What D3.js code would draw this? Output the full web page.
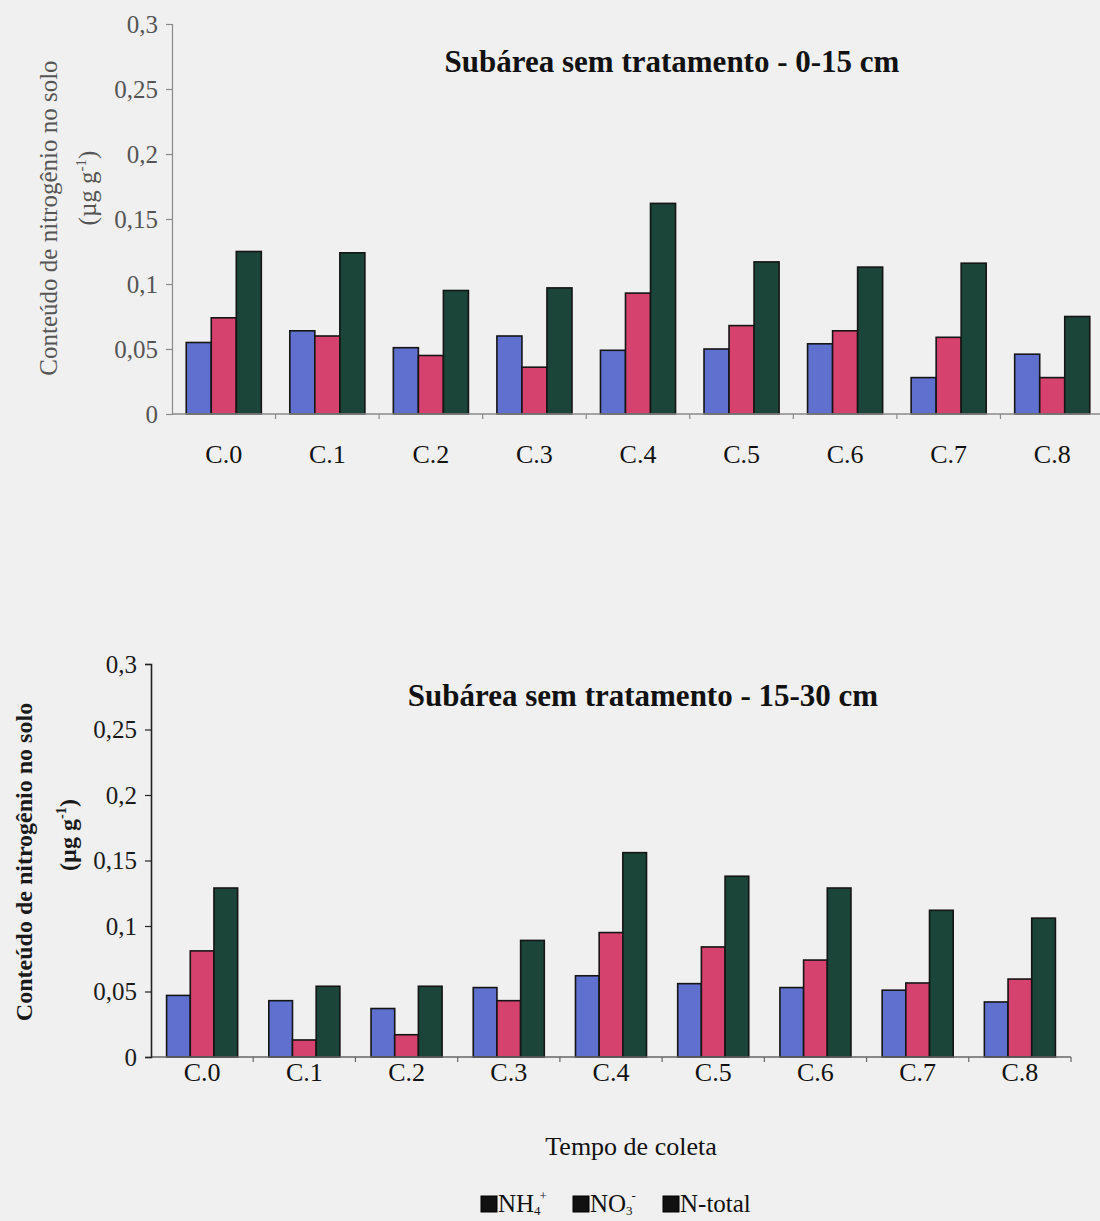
<!DOCTYPE html>
<html>
<head>
<meta charset="utf-8">
<script src="https://cdn.jsdelivr.net/npm/d3@7"></script>
<style>
  html, body { margin: 0; padding: 0; background: #f0f0f0; }
  svg { display: block; font-family: "Liberation Serif", "Times New Roman", serif; }
</style>
</head>
<body>
<svg id="chart" width="1100" height="1221"></svg>
<script>
// Collection times
const categories = ["C.0", "C.1", "C.2", "C.3", "C.4", "C.5", "C.6", "C.7", "C.8"];
const seriesNames = ["NH4", "NO3", "Ntotal"];

// Soil nitrogen content, 0-15 cm (µg g-1)
const topNH4    = [0.055, 0.064, 0.051, 0.060, 0.049, 0.050, 0.054, 0.028, 0.046];
const topNO3    = [0.074, 0.060, 0.045, 0.036, 0.093, 0.068, 0.064, 0.059, 0.028];
const topNtotal = [0.125, 0.124, 0.095, 0.097, 0.162, 0.117, 0.113, 0.116, 0.075];

// Soil nitrogen content, 15-30 cm (µg g-1)
const botNH4    = [0.047, 0.043, 0.037, 0.053, 0.062, 0.056, 0.053, 0.051, 0.042];
const botNO3    = [0.081, 0.013, 0.017, 0.043, 0.095, 0.084, 0.074, 0.0565, 0.0595];
const botNtotal = [0.129, 0.054, 0.054, 0.089, 0.156, 0.138, 0.129, 0.112, 0.106];

const yTicks = [0, 0.05, 0.1, 0.15, 0.2, 0.25, 0.3];
const yTickLabels = ["0", "0,05", "0,1", "0,15", "0,2", "0,25", "0,3"];

const colors = { NH4: "#5f70cf", NO3: "#d6426e", Ntotal: "#1b4538" };

const svg = d3.select("#chart");

function drawPanel(cfg) {
  const g = svg.append("g");
  const x0 = d3.scaleBand().domain(categories).range([cfg.left, cfg.right]).padding(0);
  const groupW = x0.step() * cfg.groupFrac;
  const x1 = d3.scaleBand().domain(seriesNames).range([-groupW / 2, groupW / 2]).padding(0);
  const y = d3.scaleLinear().domain([0, 0.3]).range([cfg.bottom, cfg.top]);

  const rows = categories.map((c, i) => ({
    cat: c,
    vals: [
      { key: "NH4", v: cfg.nh4[i] },
      { key: "NO3", v: cfg.no3[i] },
      { key: "Ntotal", v: cfg.ntot[i] }
    ]
  }));

  // Bars
  const grp = g.selectAll("g.grp").data(rows).join("g")
    .attr("class", "grp")
    .attr("transform", d => `translate(${x0(d.cat) + x0.bandwidth() / 2},0)`);
  grp.selectAll("rect").data(d => d.vals).join("rect")
    .attr("x", d => x1(d.key))
    .attr("width", x1.bandwidth())
    .attr("y", d => y(d.v))
    .attr("height", d => y(0) - y(d.v))
    .attr("fill", d => colors[d.key])
    .attr("stroke", "#151515")
    .attr("stroke-width", 1.6);

  // X axis line with ticks at category boundaries
  g.append("line")
    .attr("x1", cfg.left).attr("x2", cfg.right)
    .attr("y1", y(0)).attr("y2", y(0))
    .attr("stroke", cfg.xAxisColor).attr("stroke-width", 1.3);
  g.selectAll("line.xt").data(d3.range(1, categories.length + 1)).join("line")
    .attr("class", "xt")
    .attr("x1", i => cfg.left + i * x0.step()).attr("x2", i => cfg.left + i * x0.step())
    .attr("y1", y(0)).attr("y2", y(0) + 5)
    .attr("stroke", cfg.xAxisColor).attr("stroke-width", 1.2);

  // Category labels
  g.selectAll("text.xl").data(categories).join("text")
    .attr("class", "xl")
    .attr("x", c => x0(c) + x0.bandwidth() / 2)
    .attr("y", cfg.xLabelY)
    .attr("text-anchor", "middle")
    .attr("font-size", 26)
    .attr("fill", "#111")
    .text(c => c);

  // Y axis
  const yAxis = d3.axisLeft(y).tickValues(yTicks)
    .tickFormat((d, i) => yTickLabels[i]).tickSize(6).tickPadding(8);
  const ya = g.append("g").attr("transform", `translate(${cfg.left},0)`).call(yAxis);
  ya.select(".domain").attr("stroke", cfg.yAxisColor).attr("stroke-width", cfg.yAxisWidth);
  ya.selectAll(".tick line").attr("stroke", cfg.yAxisColor).attr("stroke-width", 1.2);
  ya.selectAll(".tick text")
    .attr("font-family", "Liberation Serif, serif")
    .attr("font-size", 25)
    .attr("fill", cfg.yLabelColor);

  // Y axis title (two lines)
  g.append("text")
    .attr("transform", `translate(${cfg.yTitleX1},${cfg.yTitleY}) rotate(-90)`)
    .attr("text-anchor", "middle")
    .attr("font-size", cfg.yTitleSize)
    .attr("font-weight", cfg.yTitleWeight)
    .attr("fill", cfg.yTitleColor)
    .text("Conteúdo de nitrogênio no solo");
  const t2 = g.append("text")
    .attr("transform", `translate(${cfg.yTitleX2},${cfg.yTitleY2}) rotate(-90)`)
    .attr("text-anchor", "middle")
    .attr("font-size", cfg.yTitleSize)
    .attr("font-weight", cfg.yTitleWeight)
    .attr("fill", cfg.yTitleColor);
  t2.append("tspan").text("(µg g");
  t2.append("tspan").attr("dy", -10).attr("font-size", cfg.yTitleSize * 0.6).text("-1");
  t2.append("tspan").attr("dy", 10).text(")");

  // Panel title
  g.append("text")
    .attr("x", cfg.titleX).attr("y", cfg.titleY)
    .attr("text-anchor", "middle")
    .attr("font-size", 31)
    .attr("font-weight", "bold")
    .attr("fill", "#111")
    .text(cfg.title);
}

drawPanel({
  left: 172, right: 1104, top: 24, bottom: 414, groupFrac: 0.725,
  nh4: topNH4, no3: topNO3, ntot: topNtotal,
  xAxisColor: "#8a8a8a", yAxisColor: "#8a8a8a", yAxisWidth: 1.2, yLabelColor: "#555",
  xLabelY: 463,
  yTitleX1: 57, yTitleX2: 96, yTitleY: 218, yTitleY2: 188,
  yTitleSize: 25, yTitleWeight: "normal", yTitleColor: "#555",
  title: "Subárea sem tratamento - 0-15 cm", titleX: 672, titleY: 72
});

drawPanel({
  left: 151, right: 1071, top: 664, bottom: 1057, groupFrac: 0.695,
  nh4: botNH4, no3: botNO3, ntot: botNtotal,
  xAxisColor: "#666", yAxisColor: "#222", yAxisWidth: 1.6, yLabelColor: "#1a1a1a",
  xLabelY: 1081,
  yTitleX1: 32, yTitleX2: 76, yTitleY: 862, yTitleY2: 835,
  yTitleSize: 24, yTitleWeight: "bold", yTitleColor: "#1a1a1a",
  title: "Subárea sem tratamento - 15-30 cm", titleX: 643, titleY: 706
});

// Shared x axis title
svg.append("text")
  .attr("x", 631).attr("y", 1155)
  .attr("text-anchor", "middle")
  .attr("font-size", 26)
  .attr("fill", "#111")
  .text("Tempo de coleta");

// Legend
const legendItems = [
  { key: "NH4", base: "NH", sub: "4", sup: "+", x: 481 },
  { key: "NO3", base: "NO", sub: "3", sup: "-", x: 573 },
  { key: "Ntotal", base: "N-total", sub: null, sup: null, x: 663 }
];
const lg = svg.append("g");
legendItems.forEach(it => {
  lg.append("rect")
    .attr("x", it.x).attr("y", 1196).attr("width", 16).attr("height", 16)
    .attr("fill", "#111").attr("stroke", "#000");
  const t = lg.append("text")
    .attr("x", it.x + 17).attr("y", 1212)
    .attr("font-size", 25).attr("fill", "#111");
  t.append("tspan").text(it.base);
  if (it.sub) {
    t.append("tspan").attr("dy", 3).attr("font-size", 13).text(it.sub);
    t.append("tspan").attr("dy", -15).attr("dx", -1).attr("font-size", 13).text(it.sup);
  }
});
</script>
</body>
</html>
